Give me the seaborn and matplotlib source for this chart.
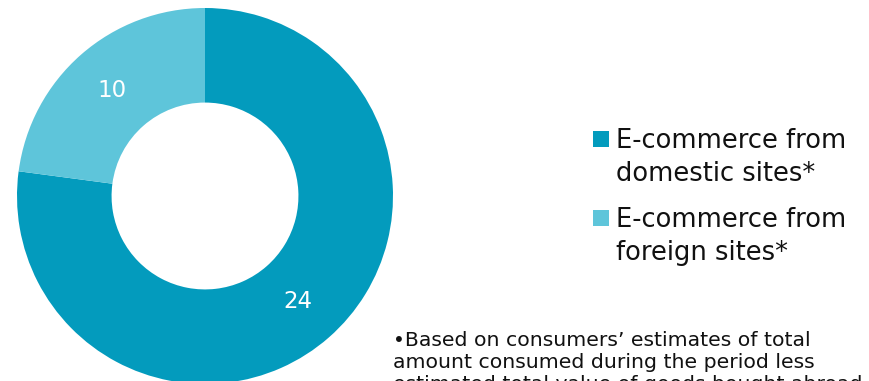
import matplotlib
matplotlib.use("Agg")
import matplotlib.pyplot as plt
from matplotlib.patches import Patch, Rectangle
from matplotlib.legend_handler import HandlerPatch
import seaborn as sns

# ---- data ----
categories = ["E-commerce from\ndomestic sites*", "E-commerce from\nforeign sites*"]
label_values = ["24", "10"]          # numbers printed on the ring
ring_shares = [77.1, 22.9]           # share of the ring each segment occupies (as drawn)
colors = ["#039BBD", "#5EC5DA"]
footnote = ("\u2022Based on consumers\u2019 estimates of total\n"
            "amount consumed during the period less\n"
            "estimated total value of goods bought abroad")

sns.set_theme(style="white")
plt.rcParams["font.family"] = ["DejaVu Sans"]

W, H = 870, 381
fig = plt.figure(figsize=(W / 100, H / 100), dpi=100)
fig.patch.set_facecolor("white")

cx, cy, R = 205, 196, 188
ax = fig.add_axes([(cx - R) / W, (H - cy - R) / H, 2 * R / W, 2 * R / H])
ax.axis("off")

it = iter(label_values)
wedges, texts, autotexts = ax.pie(
    ring_shares, colors=colors, startangle=90, counterclock=False, radius=1,
    wedgeprops=dict(width=0.503, edgecolor="none"),
    autopct=lambda p: next(it), pctdistance=0.749,
    textprops=dict(color="white", fontsize=16.5))
ax.set_xlim(-1, 1)
ax.set_ylim(-1, 1)
ax.set_aspect("equal")

SQ_SHIFT = 14.2  # points: lift square to the first text line


class TopSquare(HandlerPatch):
    def __init__(self):
        super().__init__(patch_func=self._mk)

    @staticmethod
    def _mk(legend, orig_handle, xdescent, ydescent, width, height, fontsize):
        return Rectangle((-xdescent, -ydescent + SQ_SHIFT), width, width)


handles = [Patch(facecolor=c, edgecolor="none", label=l) for c, l in zip(colors, categories)]
leg = fig.legend(handles=handles, loc="upper left", bbox_to_anchor=(593 / W, 1 - 128.5 / H),
                 frameon=False, fontsize=18.5, handlelength=0.62, handleheight=0.6,
                 handletextpad=0.28, labelspacing=0.76, borderpad=0, borderaxespad=0,
                 handler_map={Patch: TopSquare()})
for t in leg.get_texts():
    t.set_linespacing(1.35)
    t.set_color("#111111")

fig.text(393 / W, (H - 389.5) / H, footnote, fontsize=14.7, va="baseline", ha="left",
         color="#111111", linespacing=1.2)

fig.savefig("out.png", dpi=100)
